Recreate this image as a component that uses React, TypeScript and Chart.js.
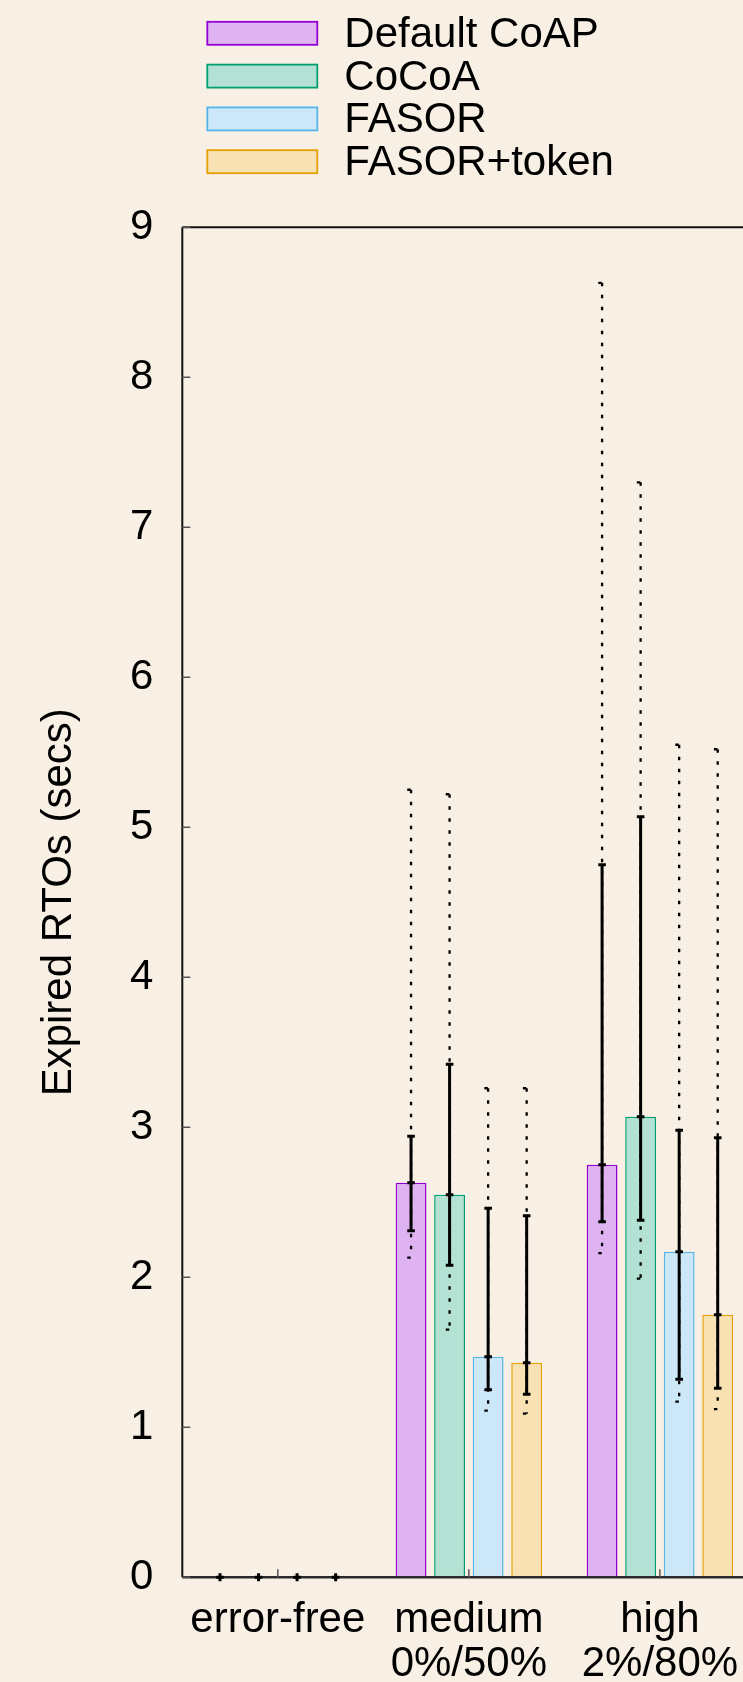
import React, { useEffect, useRef } from "react";
import { Chart, registerables } from "chart.js";

Chart.register(...registerables);

// ---- data ----
const categories: string[][] = [["error-free"], ["medium", "0%/50%"], ["high", "2%/80%"]];
const seriesNames = ["Default CoAP", "CoCoA", "FASOR", "FASOR+token"];
const yTickValues = [0, 1, 2, 3, 4, 5, 6, 7, 8, 9];
const yAxisTitle = "Expired RTOs (secs)";

// mean (bar height)
const meanDefault = [0, 2.63, 2.75];
const meanCoCoA = [0, 2.55, 3.07];
const meanFASOR = [0, 1.47, 2.17];
const meanToken = [0, 1.43, 1.75];

// solid whisker (low / high)
const solidLowDefault = [0, 2.31, 2.37];
const solidHighDefault = [0, 2.94, 4.75];
const solidLowCoCoA = [0, 2.08, 2.38];
const solidHighCoCoA = [0, 3.42, 5.07];
const solidLowFASOR = [0, 1.25, 1.32];
const solidHighFASOR = [0, 2.46, 2.98];
const solidLowToken = [0, 1.22, 1.26];
const solidHighToken = [0, 2.41, 2.93];

// dotted whisker (low / high)
const dotLowDefault = [0, 2.13, 2.16];
const dotHighDefault = [0, 5.25, 8.63];
const dotLowCoCoA = [0, 1.65, 1.99];
const dotHighCoCoA = [0, 5.22, 7.3];
const dotLowFASOR = [0, 1.11, 1.17];
const dotHighFASOR = [0, 3.26, 5.55];
const dotLowToken = [0, 1.09, 1.12];
const dotHighToken = [0, 3.26, 5.52];

// ---- styles ----
const borderColors = ["#9400D3", "#009E73", "#56B4E9", "#E69F00"];
const fillColors = ["#DFB2F2", "#B3E2D5", "#CCE8F8", "#F8E2B3"];
const BG = "#F9F0E5";
const FONT = "'Liberation Sans', Arial, Helvetica, sans-serif";
const FS = 42;

const means = [meanDefault, meanCoCoA, meanFASOR, meanToken];
const solidLows = [solidLowDefault, solidLowCoCoA, solidLowFASOR, solidLowToken];
const solidHighs = [solidHighDefault, solidHighCoCoA, solidHighFASOR, solidHighToken];
const dotLows = [dotLowDefault, dotLowCoCoA, dotLowFASOR, dotLowToken];
const dotHighs = [dotHighDefault, dotHighCoCoA, dotHighFASOR, dotHighToken];

const CANVAS_W = 760;
const CANVAS_H = 1682;

const decorPlugin = {
  id: "decor",
  afterDatasetsDraw(chart: any) {
    const ctx = chart.ctx as CanvasRenderingContext2D;
    const ys = chart.scales.y;
    const xs = chart.scales.x;
    const area = chart.chartArea;
    ctx.save();

    // axis lines first (error markers sit on top of them)
    ctx.strokeStyle = "#111";
    ctx.lineWidth = 2;
    ctx.beginPath();
    ctx.moveTo(area.left, area.top);
    ctx.lineTo(area.right, area.top);
    ctx.lineTo(area.right, area.bottom);
    ctx.moveTo(area.left, area.top);
    ctx.lineTo(area.left, area.bottom);
    ctx.stroke();
    ctx.strokeStyle = "#2a2a2a";
    ctx.lineWidth = 2.5;
    ctx.beginPath();
    ctx.moveTo(area.left, area.bottom);
    ctx.lineTo(area.right, area.bottom);
    ctx.stroke();

    // tick marks
    ctx.strokeStyle = "#555";
    ctx.lineWidth = 1.5;
    ctx.beginPath();
    yTickValues.forEach((v) => {
      const y = ys.getPixelForValue(v);
      ctx.moveTo(area.left, y);
      ctx.lineTo(area.left + 8, y);
    });
    categories.forEach((_, i) => {
      const x = xs.getPixelForValue(i);
      ctx.moveTo(x, area.bottom);
      ctx.lineTo(x, area.bottom - 8);
    });
    ctx.stroke();

    // error bars
    for (let d = 0; d < chart.data.datasets.length; d++) {
      const meta = chart.getDatasetMeta(d);
      meta.data.forEach((el: any, j: number) => {
        const x = el.x;
        const capW = 3.8;
        // dotted whisker
        ctx.strokeStyle = "#000";
        ctx.lineWidth = 2.3;
        ctx.setLineDash([3.5, 8.5]);
        const yDH = ys.getPixelForValue(dotHighs[d][j]);
        const yDL = ys.getPixelForValue(dotLows[d][j]);
        ctx.beginPath();
        ctx.moveTo(x, yDH);
        ctx.lineTo(x, yDL);
        ctx.moveTo(x - capW, yDH);
        ctx.lineTo(x + capW, yDH);
        ctx.moveTo(x - capW, yDL);
        ctx.lineTo(x + capW, yDL);
        ctx.stroke();
        // solid whisker
        ctx.setLineDash([]);
        ctx.lineWidth = 3;
        const yH = ys.getPixelForValue(solidHighs[d][j]);
        const yL = ys.getPixelForValue(solidLows[d][j]);
        const yM = ys.getPixelForValue(means[d][j]);
        ctx.beginPath();
        ctx.moveTo(x, yH);
        ctx.lineTo(x, yL);
        ctx.moveTo(x - capW, yH);
        ctx.lineTo(x + capW, yH);
        ctx.moveTo(x - capW, yL);
        ctx.lineTo(x + capW, yL);
        ctx.moveTo(x - capW, yM);
        ctx.lineTo(x + capW, yM);
        // small mean marker
        ctx.moveTo(x, yM - 4);
        ctx.lineTo(x, yM + 4);
        ctx.stroke();
      });
    }

    // legend
    const boxX = area.left + 25;
    const boxW = 110;
    const boxH = 23;
    const rowH = 42.8;
    const firstY = 33.3;
    ctx.font = `${FS}px ${FONT}`;
    ctx.textBaseline = "middle";
    ctx.textAlign = "left";
    chart.data.datasets.forEach((ds: any, i: number) => {
      const cy = firstY + i * rowH;
      ctx.fillStyle = ds.backgroundColor;
      ctx.fillRect(boxX, cy - boxH / 2, boxW, boxH);
      ctx.strokeStyle = ds.borderColor;
      ctx.lineWidth = 1.8;
      ctx.strokeRect(boxX, cy - boxH / 2, boxW, boxH);
      ctx.fillStyle = "#000";
      ctx.fillText(ds.label, boxX + boxW + 27, cy + 2);
    });

    ctx.restore();
  },
};

export default function App() {
  const ref = useRef<HTMLCanvasElement | null>(null);

  useEffect(() => {
    if (!ref.current) return;
    const chart = new Chart(ref.current, {
      type: "bar",
      data: {
        labels: categories,
        datasets: seriesNames.map((name, i) => ({
          label: name,
          data: means[i],
          backgroundColor: fillColors[i],
          borderColor: borderColors[i],
          borderWidth: 1.5,
          borderSkipped: false,
          categoryPercentage: 0.807,
          barPercentage: 0.8,
        })),
      },
      options: {
        responsive: false,
        animation: false,
        layout: { padding: { top: 227.3, left: 0, right: 3.5, bottom: 0 } },
        plugins: {
          legend: { display: false },
          tooltip: { enabled: false },
        },
        scales: {
          x: {
            type: "category",
            offset: true,
            grid: { display: false, drawTicks: false },
            border: { display: false },
            ticks: {
              color: "#000",
              font: { family: FONT, size: FS, lineHeight: 44 / 42 },
              padding: 21.3,
              maxRotation: 0,
              autoSkip: false,
            },
            afterFit: (s: any) => {
              s.height = CANVAS_H - 1577.2;
            },
          },
          y: {
            min: 0,
            max: 9,
            grid: { display: false, drawTicks: false },
            border: { display: false },
            ticks: {
              stepSize: 1,
              color: "#000",
              font: { family: FONT, size: FS },
              padding: 29,
            },
            title: {
              display: true,
              text: yAxisTitle,
              color: "#000",
              font: { family: FONT, size: FS },
              padding: { top: 34, bottom: 0 },
            },
            afterFit: (s: any) => {
              s.width = 182.3;
            },
          },
        },
      },
      plugins: [decorPlugin],
    });
    return () => chart.destroy();
  }, []);

  return (
    <div
      style={{
        position: "fixed",
        left: 0,
        top: 0,
        width: 743,
        height: CANVAS_H,
        overflow: "hidden",
        background: BG,
      }}
    >
      <canvas
        ref={ref}
        width={CANVAS_W}
        height={CANVAS_H}
        style={{ display: "block", width: CANVAS_W, height: CANVAS_H }}
      />
    </div>
  );
}
